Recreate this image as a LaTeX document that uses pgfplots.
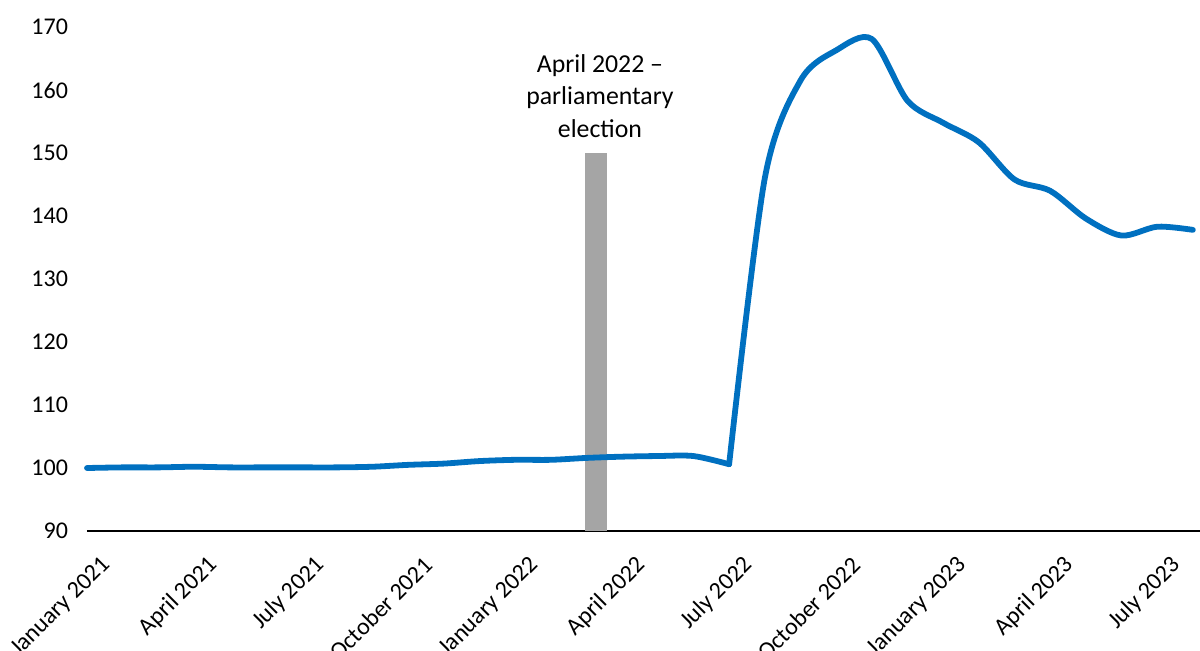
\documentclass[border=0pt]{standalone}
\usepackage{fontspec}
\setmainfont{Carlito}
\usepackage{pgfplots}
\pgfplotsset{compat=1.18}

\definecolor{lineblue}{HTML}{0070C0}
\definecolor{bargrey}{HTML}{A5A5A5}

% Monthly index, January 2021 = 0 (before and from July 2022)
\pgfplotstableread{
m    v
0    100.0
1    100.1
2    100.1
3    100.2
4    100.1
5    100.1
6    100.1
7    100.1
8    100.2
9    100.5
10   100.7
11   101.1
12   101.3
13   101.3
14   101.6
15   101.8
16   101.9
17   101.9
18   100.6
}\seriesA

\pgfplotstableread{
m    v
18   100.6
19   146.0
20   161.5
21   166.3
22   168.1
23   158.3
24   154.8
25   151.7
26   145.8
27   144.0
28   139.6
29   136.9
30   138.3
31   137.8
}\seriesB

\begin{document}
\begin{tikzpicture}
\useasboundingbox (-43.5pt,-59.5pt) rectangle (556.5pt,265.5pt);
\begin{axis}[
  scale only axis,
  width=556.5pt, height=252pt,
  xmin=0, xmax=31.2,
  ymin=90, ymax=170,
  ytick={90,100,...,170},
  xtick={0,3,...,30},
  xticklabels={January 2021, April 2021, July 2021, October 2021, January 2022, April 2022, July 2022, October 2022, January 2023, April 2023, July 2023},
  axis x line*=bottom,
  axis y line*=left,
  y axis line style={draw=none},
  x axis line style={-, black, line width=0.7pt},
  major tick length=0pt,
  tick style={draw=none},
  clip=false,
  /pgf/number format/assume math mode=true,
  ticklabel style={font=\fontsize{12}{14}\selectfont, text=black},
  yticklabel style={xshift=-6pt},
  xticklabel style={anchor=east, inner sep=0pt, xshift=10pt, yshift=-15pt, rotate=45},
]
\addplot[ybar, bar width=0.62, fill=bargrey, draw=none, forget plot] coordinates {(14.27,150)};
\addplot[lineblue, line width=2.9pt, smooth, tension=0.5, line cap=round, line join=round, forget plot] table[x=m, y=v] {\seriesA};
\addplot[lineblue, line width=2.9pt, smooth, tension=0.5, line cap=round, line join=round] table[x=m, y=v] {\seriesB};
\node[anchor=south, align=center, inner sep=0pt, yshift=7.5pt,
      font=\fontsize{12.9}{16.25}\selectfont]
  at (axis cs:14.38,150) {April 2022 --\\parliamentary\\election};
\end{axis}
\end{tikzpicture}
\end{document}
